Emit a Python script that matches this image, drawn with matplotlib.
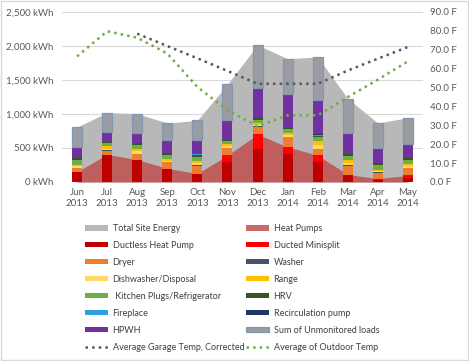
import numpy as np
import matplotlib.pyplot as plt
from matplotlib.patches import Rectangle

plt.rcParams['font.family'] = ['Lato', 'DejaVu Sans']

months = ['Jun\n2013', 'Jul\n2013', 'Aug\n2013', 'Sep\n2013', 'Oct\n2013', 'Nov\n2013',
          'Dec\n2013', 'Jan\n2014', 'Feb\n2014', 'Mar\n2014', 'Apr\n2014', 'May\n2014']

# kWh per month
total_site = [809, 1020, 1005, 867, 907, 1436, 2015, 1814, 1838, 1226, 867, 947]
heat_pumps = [150, 405, 330, 200, 125, 392, 701, 515, 392, 110, 50, 98]

ductless = [147, 402, 329, 197, 123, 294, 491, 407, 294, 98, 30, 64]
ducted = [0, 0, 0, 0, 0, 98, 210, 108, 98, 12, 20, 34]
dryer = [54, 59, 83, 92, 117, 108, 113, 142, 94, 130, 88, 108]
washer = [5, 5, 5, 5, 5, 5, 5, 5, 5, 5, 5, 5]
dishwasher = [22, 25, 35, 22, 30, 20, 20, 25, 50, 34, 17, 25]
range_ = [28, 34, 39, 28, 34, 29, 28, 34, 62, 40, 22, 34]
kitchen = [63, 48, 59, 48, 59, 44, 50, 59, 55, 59, 68, 59]
hrv = [39, 20, 23, 34, 24, 25, 30, 20, 14, 29, 29, 29]
fireplace = [0, 0, 0, 0, 20, 0, 0, 0, 24, 0, 0, 0]
recirc = [0, 0, 0, 0, 5, 0, 0, 0, 5, 0, 0, 0]
hpwh = [157, 142, 153, 187, 196, 284, 441, 499, 500, 313, 226, 206]
unmonitored = [294, 285, 279, 254, 294, 529, 632, 515, 637, 506, 362, 383]

# deg F
garage_temp = [np.nan, np.nan, 78.5, 72.0, 65.5, 58.8, 52.0, 52.0, 52.0, 59.0, 65.3, 71.5]
outdoor_temp = [66.5, 79.8, 76.4, 68.0, 50.3, 38.0, 29.5, 35.3, 35.3, 45.0, 54.2, 63.9]

x = np.arange(len(months))

fig = plt.figure(figsize=(4.69, 3.61), dpi=100)
ax = fig.add_axes([62 / 469, 1 - 182 / 361, (423 - 62) / 469, 170 / 361])

ax.fill_between(x, 0, total_site, color='#b8b8b8', lw=0, label='Total Site Energy', zorder=1)
ax.fill_between(x, 0, heat_pumps, color='#c0504d', alpha=0.85, lw=0, label='Heat Pumps', zorder=2)

stack = [
    (ductless, '#c00000', 'Ductless Heat Pump'),
    (ducted, '#ff0000', 'Ducted Minisplit'),
    (dryer, '#ed7d31', 'Dryer'),
    (washer, '#44546a', 'Washer'),
    (dishwasher, '#ffd966', 'Dishwasher/Disposal'),
    (range_, '#ffc000', 'Range'),
    (kitchen, '#70ad47', ' Kitchen Plugs/Refrigerator'),
    (hrv, '#375623', 'HRV'),
    (fireplace, '#2e9fe0', 'Fireplace'),
    (recirc, '#203864', 'Recirculation pump'),
    (hpwh, '#7030a0', 'HPWH'),
]
bottom = np.zeros(len(x))
w = 0.33
for vals, col, lab in stack:
    ax.bar(x, vals, w, bottom=bottom, color=col, lw=0, label=lab, zorder=3)
    bottom += np.array(vals)
ax.bar(x, unmonitored, w, bottom=bottom, color='#9a9ca3', edgecolor='#8497b0',
       lw=0.9, label='Sum of Unmonitored loads', zorder=3)

ax.set_xlim(-0.5, len(x) - 0.5)
ax.set_ylim(0, 2500)
ax.set_yticks(range(0, 2501, 500))
ax.set_yticklabels([f'{v:,} kWh' for v in range(0, 2501, 500)])
ax.set_xticks(x)
ax.set_xticklabels(months, linespacing=1.35)
ax.yaxis.grid(True, color='#d9d9d9', lw=0.8)
ax.set_axisbelow(True)
for s in ax.spines.values():
    s.set_visible(False)
ax.tick_params(length=0, labelsize=7, colors='#595959', pad=6)
ax.tick_params(axis='x', pad=4)

ax2 = ax.twinx()
g, = ax2.plot(x, garage_temp, ':', color='#595959', lw=1.8, label='Average Garage Temp, Corrected', zorder=5)
o, = ax2.plot(x, outdoor_temp, ':', color='#70ad47', lw=1.8, label='Average of Outdoor Temp', zorder=5)
ax2.set_ylim(0, 90)
ax2.set_yticks(range(0, 91, 10))
ax2.set_yticklabels([f'{v:.1f} F' for v in range(0, 91, 10)])
for s in ax2.spines.values():
    s.set_visible(False)
ax2.tick_params(length=0, labelsize=7, colors='#595959', pad=5)

h1, l1 = ax.get_legend_handles_labels()
hd = dict(zip(l1, h1))
hd['Average Garage Temp, Corrected'] = g
hd['Average of Outdoor Temp'] = o
left = ['Total Site Energy', 'Ductless Heat Pump', 'Dryer', 'Dishwasher/Disposal',
        ' Kitchen Plugs/Refrigerator', 'Fireplace', 'HPWH', 'Average Garage Temp, Corrected']
right = ['Heat Pumps', 'Ducted Minisplit', 'Washer', 'Range', 'HRV',
         'Recirculation pump', 'Sum of Unmonitored loads', 'Average of Outdoor Temp']
order = left + right
fig.legend([hd[k] for k in order], order, loc='upper left', ncol=2,
           bbox_to_anchor=(85 / 469, 1 - 224 / 361), frameon=False, fontsize=6.5,
           borderpad=0, borderaxespad=0, handlelength=2.6, handleheight=0.55,
           handletextpad=0.45, labelspacing=0.88, columnspacing=0.2, labelcolor='#404040')

fig.patches.append(Rectangle((0.002, 0.003), 0.995, 0.994, transform=fig.transFigure,
                             fill=False, edgecolor='#d9d9d9', lw=1))

fig.savefig('out.png', dpi=100)
